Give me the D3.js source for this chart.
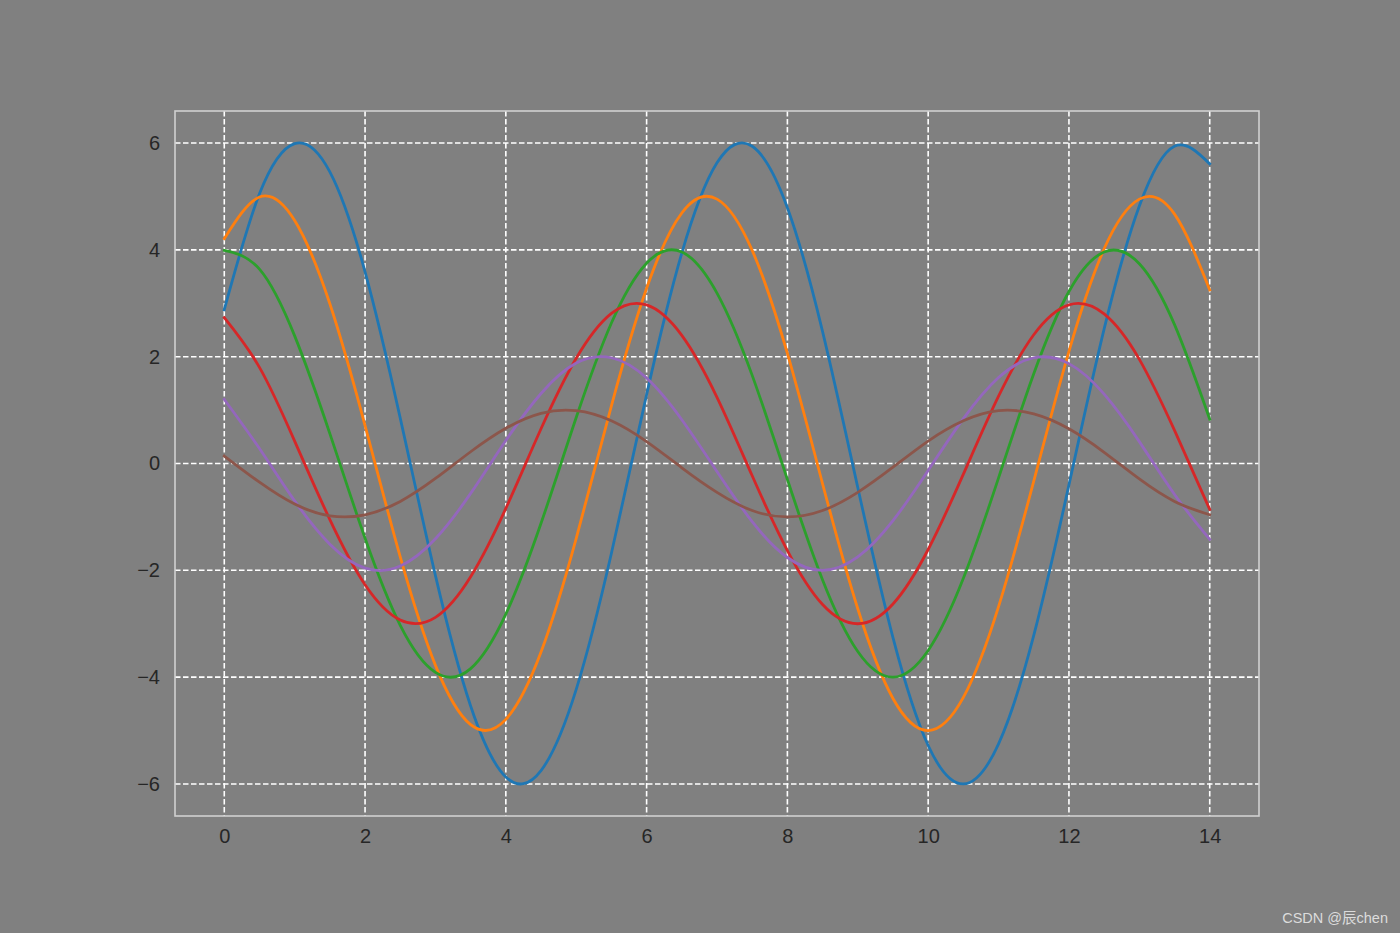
<!DOCTYPE html>
<html>
<head>
<meta charset="utf-8">
<script src="https://cdn.jsdelivr.net/npm/d3@7"></script>
<style>
  html, body { margin: 0; padding: 0; background: #808080; }
  svg { display: block; }
</style>
</head>
<body>
<div id="chart"></div>
<script>
// x positions (step 0.5 from 0 to 14)
const xValues = [0, 0.5, 1, 1.5, 2, 2.5, 3, 3.5, 4, 4.5, 5, 5.5, 6, 6.5, 7,
  7.5, 8, 8.5, 9, 9.5, 10, 10.5, 11, 11.5, 12, 12.5, 13, 13.5, 14]

// series values
const blue = [2.88, 5.05, 5.99, 5.46, 3.59, 0.85, -2.10, -4.54, -5.87, -5.75, -4.23, -1.68, 1.29, 3.94, 5.63,
  5.94, 4.79, 2.47, -0.45, -3.26, -5.28, -6.00, -5.25, -3.22, -0.40, 2.52, 4.82, 5.94, 5.61]
const orange = [4.21, 4.99, 4.55, 2.99, 0.71, -1.75, -3.78, -4.89, -4.79, -3.53, -1.40, 1.08, 3.28, 4.69, 4.95,
  3.99, 2.06, -0.38, -2.72, -4.40, -5.00, -4.38, -2.68, -0.33, 2.10, 4.02, 4.95, 4.67, 3.25]
const green = [3.99, 3.64, 2.39, 0.56, -1.40, -3.03, -3.91, -3.84, -2.82, -1.12, 0.86, 2.63, 3.75, 3.96, 3.19,
  1.65, -0.30, -2.18, -3.52, -4.00, -3.50, -2.15, -0.27, 1.68, 3.22, 3.96, 3.74, 2.60, 0.83]
const red = [2.73, 1.80, 0.42, -1.05, -2.27, -2.93, -2.88, -2.12, -0.84, 0.65, 1.97, 2.81, 2.97, 2.40, 1.24,
  -0.23, -1.63, -2.64, -3.00, -2.63, -1.61, -0.20, 1.26, 2.41, 2.97, 2.80, 1.95, 0.62, -0.86]
const purple = [1.20, 0.28, -0.70, -1.51, -1.96, -1.92, -1.41, -0.56, 0.43, 1.31, 1.88, 1.98, 1.60, 0.82, -0.15,
  -1.09, -1.76, -2.00, -1.75, -1.07, -0.13, 0.84, 1.61, 1.98, 1.87, 1.30, 0.41, -0.58, -1.42]
const brown = [0.14, -0.35, -0.76, -0.98, -0.96, -0.71, -0.28, 0.22, 0.66, 0.94, 0.99, 0.80, 0.41, -0.08, -0.54,
  -0.88, -1.00, -0.88, -0.54, -0.07, 0.42, 0.80, 0.99, 0.93, 0.65, 0.21, -0.29, -0.71, -0.96]

const seriesList = [blue, orange, green, red, purple, brown]
const colors = ['#1f77b4', '#ff7f0e', '#2ca02c', '#d62728', '#9467bd', '#8c564b']

const xTicks = [0, 2, 4, 6, 8, 10, 12, 14]
const yTicks = [-6, -4, -2, 0, 2, 4, 6]

// Set the dimensions of the canvas / graph
const W = 1400, H = 933
const margin = { top: 111, right: 141, bottom: 117, left: 175 }
const width = W - margin.left - margin.right
const height = H - margin.top - margin.bottom

const svg = d3.select('#chart')
  .append('svg')
  .attr('width', W)
  .attr('height', H)

svg.append('rect').attr('width', W).attr('height', H).attr('fill', '#808080')

const g = svg.append('g')
  .attr('transform', 'translate(' + margin.left + ',' + margin.top + ')')

const x = d3.scaleLinear().domain([-0.7, 14.7]).range([0, width])
const y = d3.scaleLinear().domain([-6.6, 6.6]).range([height, 0])

// grid lines, white dashed
g.append('g')
  .selectAll('line')
  .data(xTicks)
  .join('line')
  .attr('x1', d => x(d)).attr('x2', d => x(d))
  .attr('y1', 0).attr('y2', height)
  .attr('stroke', '#fff').attr('stroke-width', 1.6)
  .attr('stroke-dasharray', '5.5,2.5')

g.append('g')
  .selectAll('line')
  .data(yTicks)
  .join('line')
  .attr('y1', d => y(d)).attr('y2', d => y(d))
  .attr('x1', 0).attr('x2', width)
  .attr('stroke', '#fff').attr('stroke-width', 1.6)
  .attr('stroke-dasharray', '5.5,2.5')

// axes (labels only, no tick marks)
const xAxis = g.append('g')
  .attr('transform', 'translate(0,' + height + ')')
  .call(d3.axisBottom(x).tickValues(xTicks).tickSize(0).tickPadding(13).tickFormat(d3.format('d')))
const yAxis = g.append('g')
  .call(d3.axisLeft(y).tickValues(yTicks).tickSize(0).tickPadding(15)
    .tickFormat(d => d < 0 ? '\u2212' + Math.abs(d) : d))

;[xAxis, yAxis].forEach(a => {
  a.select('.domain').remove()
  a.selectAll('text')
    .attr('fill', '#262626')
    .style('font-family', 'Arial, "Liberation Sans", sans-serif')
    .style('font-size', '20px')
})

// lines, drawn as smooth splines through the read points
const line = d3.line()
  .x((d, i) => x(xValues[i]))
  .y(d => y(d))
  .curve(d3.curveNatural)

g.append('g')
  .selectAll('path')
  .data(seriesList)
  .join('path')
  .attr('d', d => line(d))
  .attr('fill', 'none')
  .attr('stroke', (d, i) => colors[i])
  .attr('stroke-width', 2.8)
  .attr('stroke-linecap', 'square')

// frame
g.append('rect')
  .attr('x', 0).attr('y', 0)
  .attr('width', width).attr('height', height)
  .attr('fill', 'none')
  .attr('stroke', '#d0d0d0')
  .attr('stroke-width', 1.6)

// watermark
svg.append('text')
  .attr('x', 1388).attr('y', 923)
  .attr('text-anchor', 'end')
  .attr('fill', '#dcdcdc')
  .style('font-family', 'Arial, "Liberation Sans", "Noto Sans CJK SC", sans-serif')
  .style('font-size', '14.5px')
  .text('CSDN @辰chen')
</script>
</body>
</html>
